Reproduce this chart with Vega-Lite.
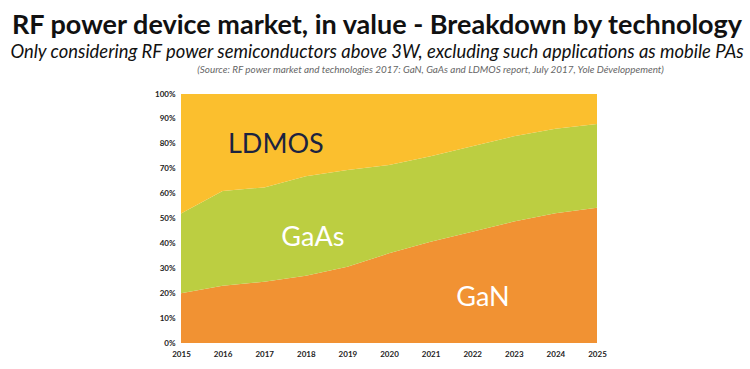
{
  "$schema": "https://vega.github.io/schema/vega-lite/v6.json",
  "width": 416,
  "height": 249,
  "autosize": "none",
  "padding": {"left": 181, "top": 94, "right": 153, "bottom": 26},
  "background": "white",
  "title": {
    "text": "RF power device market, in value - Breakdown by technology",
    "subtitle": "Only considering RF power semiconductors above 3W, excluding such applications as mobile PAs",
    "anchor": "middle",
    "frame": "group",
    "dx": -12,
    "font": "Lato",
    "fontSize": 27,
    "fontWeight": "bold",
    "color": "#111111",
    "subtitleFont": "Lato",
    "subtitleFontSize": 18.4,
    "subtitleFontStyle": "italic",
    "subtitleColor": "#111111",
    "subtitlePadding": 3,
    "offset": 3
  },
  "config": {"view": {"stroke": null}},
  "datasets": {
    "market": [
      {"year": 2015, "tech": "GaN", "share": 20},
      {"year": 2016, "tech": "GaN", "share": 23},
      {"year": 2017, "tech": "GaN", "share": 24.6},
      {"year": 2018, "tech": "GaN", "share": 27},
      {"year": 2019, "tech": "GaN", "share": 30.6},
      {"year": 2020, "tech": "GaN", "share": 36},
      {"year": 2021, "tech": "GaN", "share": 40.7},
      {"year": 2022, "tech": "GaN", "share": 44.7},
      {"year": 2023, "tech": "GaN", "share": 48.8},
      {"year": 2024, "tech": "GaN", "share": 52.1},
      {"year": 2025, "tech": "GaN", "share": 54.3},
      {"year": 2015, "tech": "GaAs", "share": 32},
      {"year": 2016, "tech": "GaAs", "share": 38},
      {"year": 2017, "tech": "GaAs", "share": 37.9},
      {"year": 2018, "tech": "GaAs", "share": 40},
      {"year": 2019, "tech": "GaAs", "share": 38.9},
      {"year": 2020, "tech": "GaAs", "share": 35.5},
      {"year": 2021, "tech": "GaAs", "share": 34.3},
      {"year": 2022, "tech": "GaAs", "share": 34.3},
      {"year": 2023, "tech": "GaAs", "share": 34.2},
      {"year": 2024, "tech": "GaAs", "share": 33.9},
      {"year": 2025, "tech": "GaAs", "share": 33.7},
      {"year": 2015, "tech": "LDMOS", "share": 48},
      {"year": 2016, "tech": "LDMOS", "share": 39},
      {"year": 2017, "tech": "LDMOS", "share": 37.5},
      {"year": 2018, "tech": "LDMOS", "share": 33},
      {"year": 2019, "tech": "LDMOS", "share": 30.5},
      {"year": 2020, "tech": "LDMOS", "share": 28.5},
      {"year": 2021, "tech": "LDMOS", "share": 25},
      {"year": 2022, "tech": "LDMOS", "share": 21},
      {"year": 2023, "tech": "LDMOS", "share": 17},
      {"year": 2024, "tech": "LDMOS", "share": 14},
      {"year": 2025, "tech": "LDMOS", "share": 12}
    ],
    "labels": [
      {"label": "LDMOS", "year": 2017.28, "share": 79.5},
      {"label": "GaAs", "year": 2018.17, "share": 42},
      {"label": "GaN", "year": 2022.26, "share": 18}
    ],
    "source": [
      {"text": "(Source: RF power market and technologies 2017: GaN, GaAs and LDMOS report, July 2017, Yole Développement)", "year": 2021.0, "share": 109.6}
    ]
  },
  "encoding": {
    "x": {
      "field": "year", "type": "quantitative",
      "scale": {"domain": [2015, 2025], "nice": false, "zero": false},
      "axis": {
        "title": null, "values": [2015, 2016, 2017, 2018, 2019, 2020, 2021, 2022, 2023, 2024, 2025],
        "format": "d", "grid": false, "ticks": false, "domain": false, "labelOverlap": false,
        "labelFont": "Lato", "labelFontSize": 8, "labelFontWeight": "bold", "labelColor": "#222222",
        "labelPadding": 7, "labelFlush": false
      }
    },
    "y": {
      "field": "share", "type": "quantitative",
      "scale": {"domain": [0, 100], "nice": false},
      "axis": {
        "title": null, "values": [0, 10, 20, 30, 40, 50, 60, 70, 80, 90, 100],
        "labelExpr": "datum.value + '%'", "grid": false, "ticks": false, "domain": false, "labelOverlap": false,
        "labelFont": "Lato", "labelFontSize": 8, "labelFontWeight": "bold", "labelColor": "#222222",
        "labelPadding": 6
      }
    }
  },
  "layer": [
    {
      "data": {"name": "market"},
      "transform": [
        {"calculate": "indexof(['GaN', 'GaAs', 'LDMOS'], datum.tech)", "as": "stackOrder"}
      ],
      "mark": {"type": "area", "interpolate": "linear"},
      "encoding": {
        "order": {"field": "stackOrder", "type": "quantitative", "sort": "ascending"},
        "color": {
          "field": "tech", "type": "nominal",
          "scale": {"domain": ["LDMOS", "GaAs", "GaN"], "range": ["#FBBF2E", "#BCCE41", "#F19233"]},
          "legend": null
        }
      }
    },
    {
      "data": {"name": "labels"},
      "mark": {"type": "text", "font": "Lato", "fontSize": 27, "align": "center", "baseline": "middle"},
      "encoding": {
        "text": {"field": "label"},
        "color": {"condition": {"test": "datum.label === 'LDMOS'", "value": "#1B2340"}, "value": "#FFFFFF"}
      }
    },
    {
      "data": {"name": "source"},
      "mark": {"type": "text", "font": "Lato", "fontSize": 9.9, "fontStyle": "italic", "align": "center", "baseline": "middle", "color": "#666666"},
      "encoding": {
        "text": {"field": "text"}
      }
    }
  ]
}
